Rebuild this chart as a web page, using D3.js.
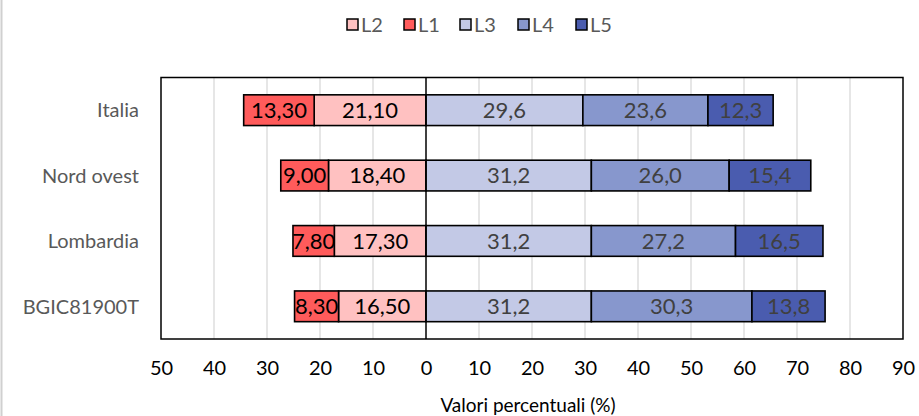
<!DOCTYPE html>
<html><head><meta charset="utf-8">
<script src="https://cdn.jsdelivr.net/npm/d3@7"></script>
<style>body{margin:0;background:#fff}svg{display:block}text{font-family:Lato,"Open Sans",sans-serif}</style>
</head><body><svg id="c" width="919" height="416"></svg>
<script>
const categories = ["Italia", "Nord ovest", "Lombardia", "BGIC81900T"];
const L2 = [21.10, 18.40, 17.30, 16.50];
const L1 = [13.30, 9.00, 7.80, 8.30];
const L3 = [29.6, 31.2, 31.2, 31.2];
const L4 = [23.6, 26.0, 27.2, 30.3];
const L5 = [12.3, 15.4, 16.5, 13.8];
const tickValues = [-50,-40,-30,-20,-10,0,10,20,30,40,50,60,70,80,90];
const legendNames = ["L2","L1","L3","L4","L5"];
const axisTitle = "Valori percentuali (%)";

const colors = {L2:"#FFC1C1", L1:"#FF5B5B", L3:"#C3C9E6", L4:"#8797CD", L5:"#4A5CAF"};
const loc = d3.formatLocale({decimal:",", thousands:".", grouping:[3], currency:["","€"]});
const f2 = loc.format(".2f"), f1 = loc.format(".1f");

const svg = d3.select("#c");
const m = {l:161, r:903, t:77.5, b:339};
const x = d3.scaleLinear().domain([-50,90]).range([m.l, m.r]);
const y = d3.scaleBand().domain(categories).range([m.t, m.b]).paddingInner(0.53).paddingOuter(0.265);

svg.append("line").attr("x1",1.5).attr("x2",1.5).attr("y1",0).attr("y2",416).attr("stroke","#d0d0d0").attr("stroke-width",2);

svg.append("g").selectAll("line").data(tickValues.filter(d=>d!==0 && d!==-50 && d!==90)).join("line")
  .attr("x1",d=>x(d)).attr("x2",d=>x(d)).attr("y1",m.t).attr("y2",m.b)
  .attr("stroke","#d9d9d9").attr("stroke-width",1.3);

const segs = [];
categories.forEach((c,i)=>{
  segs.push({c, key:"L2", x0:-L2[i], x1:0, v:L2[i], left:true});
  segs.push({c, key:"L1", x0:-L2[i]-L1[i], x1:-L2[i], v:L1[i], left:true});
  segs.push({c, key:"L3", x0:0, x1:L3[i], v:L3[i]});
  segs.push({c, key:"L4", x0:L3[i], x1:L3[i]+L4[i], v:L4[i]});
  segs.push({c, key:"L5", x0:L3[i]+L4[i], x1:L3[i]+L4[i]+L5[i], v:L5[i]});
});
const g = svg.append("g");
g.selectAll("rect").data(segs).join("rect")
  .attr("x",d=>x(d.x0)).attr("width",d=>x(d.x1)-x(d.x0))
  .attr("y",d=>y(d.c)).attr("height",y.bandwidth())
  .attr("fill",d=>colors[d.key]).attr("stroke","#000").attr("stroke-width",1.6);
g.selectAll("text").data(segs).join("text")
  .attr("x",d=>(x(d.x0)+x(d.x1))/2).attr("y",d=>y(d.c)+y.bandwidth()/2)
  .attr("dy","0.36em").attr("text-anchor","middle").attr("font-size",22)
  .attr("fill",d=>d.left?"#000":"#404040")
  .text(d=>d.left?f2(d.v):f1(d.v));

svg.append("line").attr("x1",x(0)).attr("x2",x(0)).attr("y1",m.t).attr("y2",m.b).attr("stroke","#000").attr("stroke-width",1.5);

svg.append("rect").attr("x",m.l).attr("y",m.t).attr("width",m.r-m.l).attr("height",m.b-m.t)
  .attr("fill","none").attr("stroke","#000").attr("stroke-width",1.5);

svg.append("g").selectAll("text").data(categories).join("text")
  .attr("x",139).attr("y",d=>y(d)+y.bandwidth()/2).attr("dy","0.36em")
  .attr("text-anchor","end").attr("font-size",20).attr("fill","#595959").text(d=>d);

const ax = svg.append("g").attr("transform",`translate(0,${m.b})`)
  .call(d3.axisBottom(x).tickValues(tickValues).tickSize(0).tickPadding(0).tickFormat(d=>Math.abs(d)));
ax.select(".domain").remove();
ax.selectAll("text").attr("y",36).attr("dy",0).attr("font-size",20).attr("fill","#000")
  .attr("font-family",'Lato,"Open Sans",sans-serif');

svg.append("text").attr("x",(m.l+m.r)/2-4).attr("y",412).attr("text-anchor","middle")
  .attr("font-size",19).attr("fill","#000").text(axisTitle);

const lg = svg.append("g");
const lx = [347, 404, 460, 518, 576];
legendNames.forEach((n,i)=>{
  lg.append("rect").attr("x",lx[i]).attr("y",19).attr("width",11).attr("height",11)
    .attr("fill",colors[n]).attr("stroke","#000").attr("stroke-width",1.5);
  lg.append("text").attr("x",lx[i]+14).attr("y",24.5).attr("dy","0.36em")
    .attr("font-size",20).attr("fill","#595959").text(n);
});
</script></body></html>
